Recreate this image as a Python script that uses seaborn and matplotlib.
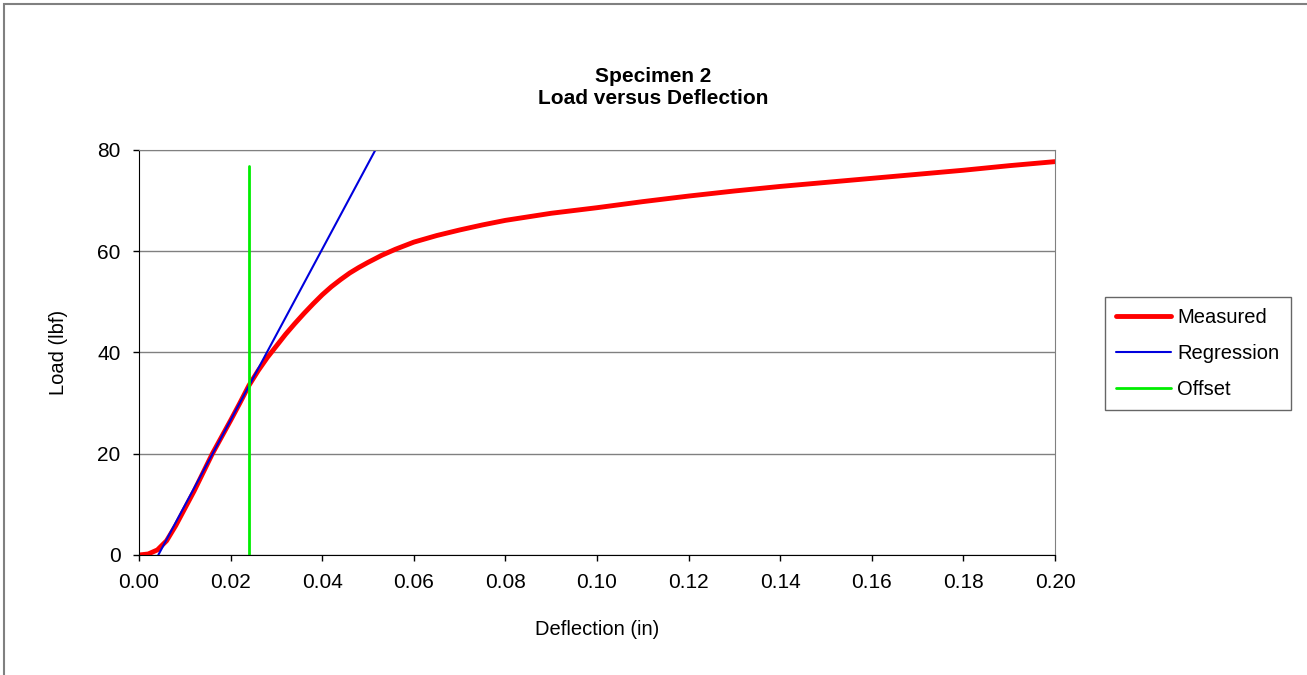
import pandas as pd
import seaborn as sns
import matplotlib.pyplot as plt
from matplotlib.patches import Rectangle

# measured load-deflection curve
deflection = [0.000, 0.002, 0.004, 0.006, 0.008, 0.010, 0.012, 0.014, 0.016, 0.018,
              0.020, 0.022, 0.024, 0.026, 0.028, 0.030, 0.032, 0.034, 0.036, 0.038,
              0.040, 0.042, 0.044, 0.046, 0.048, 0.050, 0.053, 0.056, 0.060, 0.065,
              0.070, 0.075, 0.080, 0.090, 0.100, 0.110, 0.120, 0.130, 0.140, 0.150,
              0.160, 0.170, 0.180, 0.190, 0.200]
load = [0.0, 0.2, 1.0, 2.8, 5.8, 9.2, 12.6, 16.3, 20.0, 23.3,
        26.6, 30.0, 33.5, 36.4, 39.0, 41.3, 43.6, 45.7, 47.7, 49.6,
        51.4, 53.0, 54.4, 55.7, 56.8, 57.8, 59.2, 60.4, 61.8, 63.1,
        64.2, 65.2, 66.1, 67.5, 68.6, 69.8, 70.9, 71.9, 72.8, 73.6,
        74.4, 75.2, 76.0, 76.9, 77.7]

# regression line and offset line end points
reg_x = [0.0042, 0.0516]
reg_y = [0.0, 80.0]
off_x = [0.0241, 0.0241]
off_y = [0.0, 76.8]

measured = pd.DataFrame({"Deflection": deflection, "Load": load})
regression = pd.DataFrame({"Deflection": reg_x, "Load": reg_y})
offset = pd.DataFrame({"Deflection": off_x, "Load": off_y})

sns.set_style("white")
plt.rcParams['font.family'] = ['Liberation Sans', 'DejaVu Sans']
plt.rcParams['text.color'] = 'black'
plt.rcParams['axes.labelcolor'] = 'black'
plt.rcParams['xtick.color'] = 'black'
plt.rcParams['ytick.color'] = 'black'

fig = plt.figure(figsize=(13.07, 6.75), dpi=100)
ax = fig.add_axes([0.1064, 0.1778, 0.7008, 0.6])

sns.lineplot(x="Deflection", y="Load", data=measured, color="#ff0000",
             linewidth=3.5, label="Measured", ax=ax, estimator=None, sort=False)
sns.lineplot(x="Deflection", y="Load", data=regression, color="#0000dd",
             linewidth=1.5, label="Regression", ax=ax, estimator=None, sort=False)
sns.lineplot(x="Deflection", y="Load", data=offset, color="#00ee00",
             linewidth=2, label="Offset", ax=ax, estimator=None, sort=False)

ax.set_xlim(0, 0.2)
ax.set_ylim(0, 80)
ax.set_xticks([i * 0.02 for i in range(11)])
ax.set_xticklabels([f"{i * 0.02:.2f}" for i in range(11)])
ax.set_yticks([0, 20, 40, 60, 80])
ax.yaxis.grid(True, color="#808080", linewidth=1)
ax.set_axisbelow(True)
ax.tick_params(axis="both", direction="out", length=4.3, width=1, labelsize=15,
               color="black", bottom=True, left=True)
ax.tick_params(axis="x", pad=9)
ax.tick_params(axis="y", pad=9)
for side in ["left", "bottom"]:
    ax.spines[side].set_color("black")
for side in ["top", "right"]:
    ax.spines[side].set_color("#808080")

ax.set_xlabel("Deflection (in)", size=14.5)
ax.set_ylabel("Load (lbf)", size=14.5)
ax.xaxis.set_label_coords(0.5, -0.16)
ax.yaxis.set_label_coords(-0.078, 0.5)

fig.text(0.5, 1 - 77 / 675, "Specimen 2", ha="center", va="center",
         fontsize=15, fontweight="bold")
fig.text(0.5, 1 - 98 / 675, "Load versus Deflection", ha="center", va="center",
         fontsize=15, fontweight="bold")

leg = ax.legend(loc="upper left", bbox_to_anchor=(1105 / 1307, 1 - 297 / 675),
                bbox_transform=fig.transFigure, fontsize=14.5,
                frameon=True, fancybox=False, edgecolor="#404040",
                handlelength=2.75, handletextpad=0.3, labelspacing=0.85,
                borderpad=0.55, borderaxespad=0)
leg.get_frame().set_linewidth(1)

# outer chart border
fig.patches.append(Rectangle((4 / 1307, -0.01), 1.1, 1 - 4 / 675 + 0.01,
                             transform=fig.transFigure, fill=False,
                             edgecolor="#808080", linewidth=1.5))

plt.savefig("out.png", dpi=100)
